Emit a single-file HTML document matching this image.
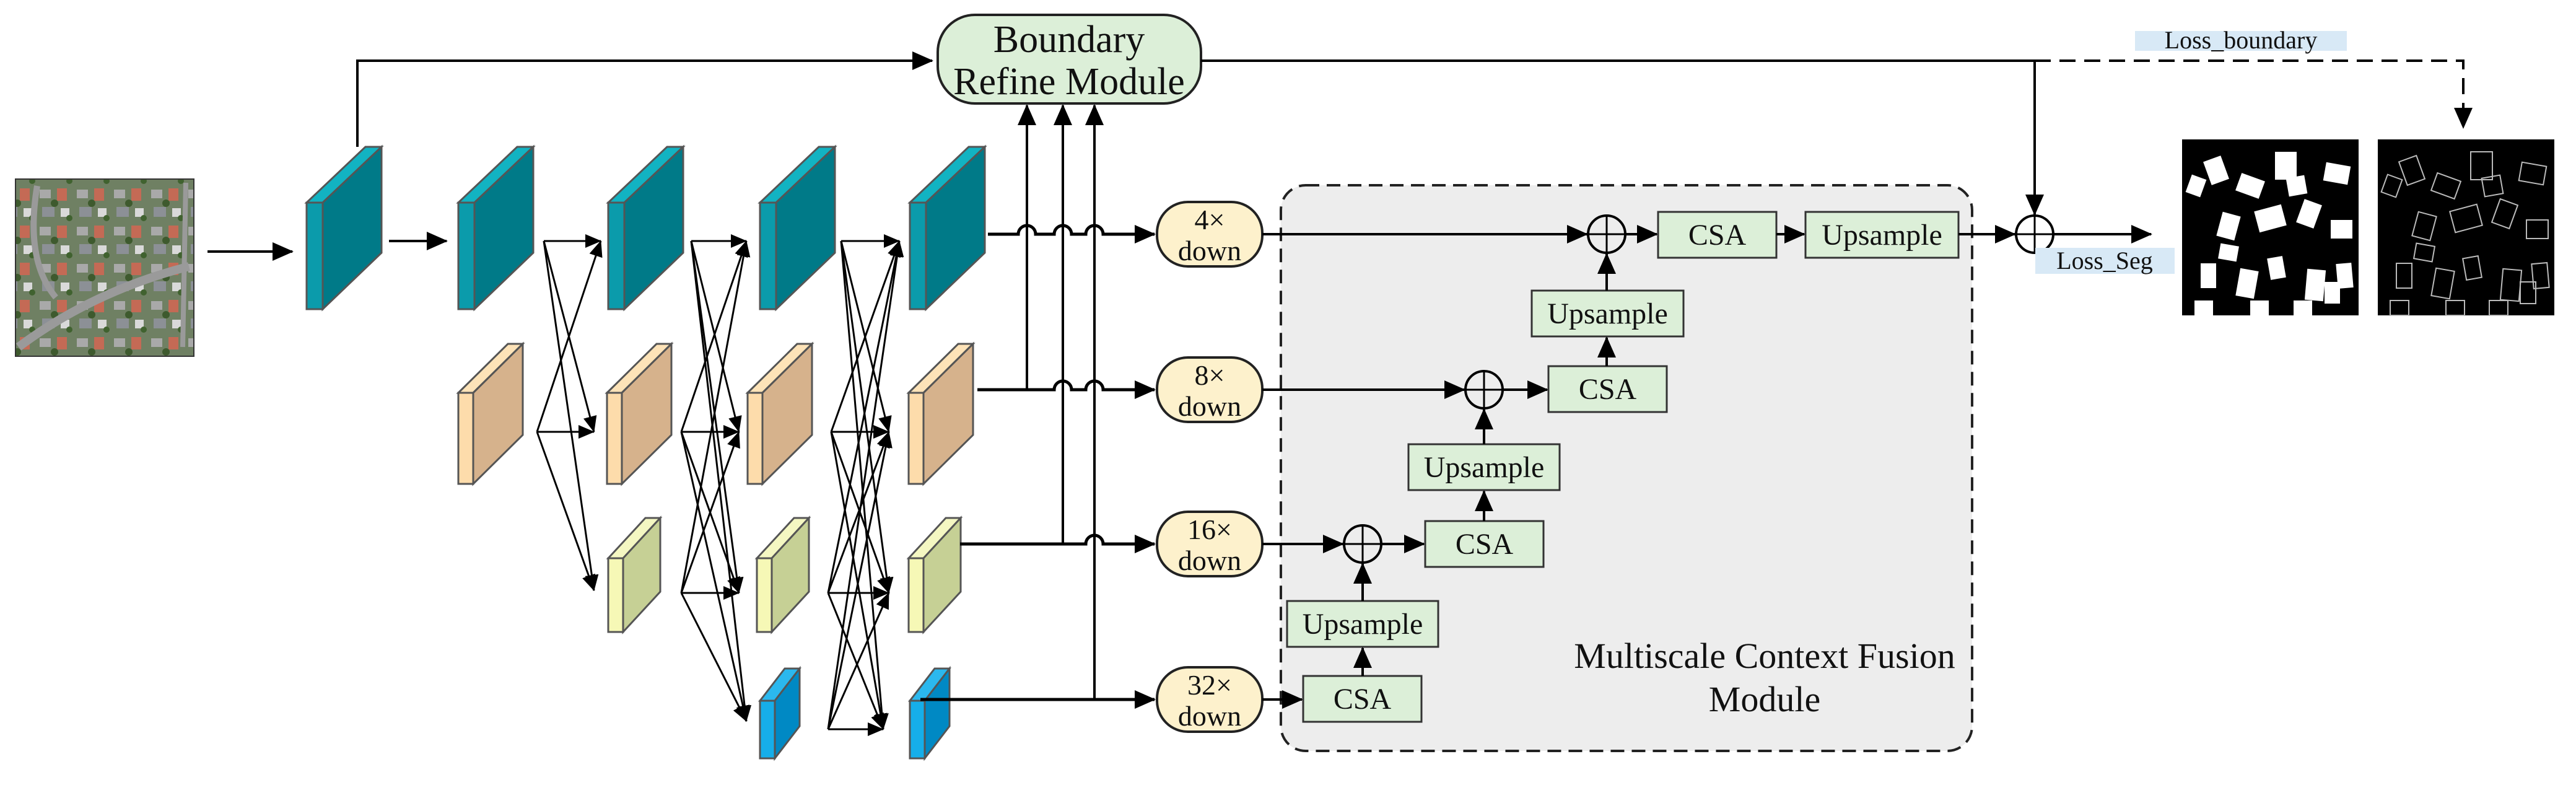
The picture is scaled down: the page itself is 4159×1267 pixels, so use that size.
<!DOCTYPE html>
<html><head><meta charset="utf-8"><style>
html,body{margin:0;padding:0;background:#fff}
svg{display:block}
text{font-family:"Liberation Serif",serif;fill:#111}
</style></head><body>
<svg id="s" width="4159" height="1267" viewBox="0 0 4159 1267" xmlns="http://www.w3.org/2000/svg">
<defs>
<marker id="a" markerUnits="userSpaceOnUse" markerWidth="34" markerHeight="30" refX="32" refY="15" orient="auto"><path d="M0,0 L34,15 L0,30 z" fill="#000"/></marker>
<marker id="b" markerUnits="userSpaceOnUse" markerWidth="26" markerHeight="22" refX="25" refY="11" orient="auto"><path d="M0,0 L26,11 L0,22 z" fill="#000"/></marker>
<pattern id="aer" width="60" height="60" patternUnits="userSpaceOnUse">
<rect width="60" height="60" fill="#6f8063"/>
<rect x="4" y="6" width="18" height="14" fill="#a9a9a9"/><rect x="32" y="4" width="16" height="20" fill="#c46a55"/>
<rect x="8" y="34" width="20" height="16" fill="#8c9096"/><rect x="38" y="36" width="14" height="14" fill="#d9d9d9"/>
<circle cx="28" cy="28" r="6" fill="#3e5a2e"/><circle cx="52" cy="52" r="5" fill="#40622f"/>
</pattern>
</defs>
<g id="g"></g>
</svg>
<script>
const g=document.getElementById('g');
let h='';
function L(x1,y1,x2,y2,m,w,d){h+=`<line x1="${x1}" y1="${y1}" x2="${x2}" y2="${y2}" stroke="#000" stroke-width="${w||4}" ${m?`marker-end="url(#${m})"`:''} ${d?`stroke-dasharray="${d}"`:''}/>`;}
function P(d,m,w,da){h+=`<path d="${d}" fill="none" stroke="#000" stroke-width="${w||4}" ${m?`marker-end="url(#${m})"`:''} ${da?`stroke-dasharray="${da}"`:''}/>`;}
function T(x,y,s,t,sz){h+=`<text x="${x}" y="${y}" font-size="${sz}" text-anchor="middle">${t}</text>`;}
h+=`<rect x="25" y="289" width="288" height="286" fill="url(#aer)" stroke="#333" stroke-width="2"/>`;
h+=`<path d="M30,560 Q150,470 305,430" stroke="#9a9a9a" stroke-width="14" fill="none"/><path d="M60,300 Q40,420 90,480" stroke="#9a9a9a" stroke-width="10" fill="none"/><path d="M300,295 L295,560" stroke="#9a9a9a" stroke-width="8" fill="none"/>`;
[495,740,982,1227,1469].forEach(x=>{
 const w=26,off=95,ft=327,fb=499,top=237,sb=408;
 h+=`<polygon points="${x},${ft} ${x+off},${top} ${x+off+w},${top} ${x+w},${ft}" fill="#12b3c2" stroke="#555" stroke-width="3"/>`;
 h+=`<polygon points="${x+w},${ft} ${x+w+off},${top} ${x+w+off},${sb} ${x+w},${fb}" fill="#007a88" stroke="#555" stroke-width="3"/>`;
 h+=`<rect x="${x}" y="${ft}" width="${w}" height="${fb-ft}" fill="#0b9bab" stroke="#555" stroke-width="3"/>`;
});
function gen(xs,ft,fb,top,off,sb,cf,cs,ct){xs.forEach(x=>{const w=24;
 h+=`<polygon points="${x},${ft} ${x+off},${top} ${x+off+w},${top} ${x+w},${ft}" fill="${ct}" stroke="#555" stroke-width="3"/>`;
 h+=`<polygon points="${x+w},${ft} ${x+w+off},${top} ${x+w+off},${sb} ${x+w},${fb}" fill="${cs}" stroke="#555" stroke-width="3"/>`;
 h+=`<rect x="${x}" y="${ft}" width="${w}" height="${fb-ft}" fill="${cf}" stroke="#555" stroke-width="3"/>`;});}
gen([740,980,1207,1467],634,781,555,80,702,"#fddcab","#d6b28c","#fde3b8");
gen([982,1222,1467],901,1020,836,60,955,"#f6f8b6","#c6d095","#f4f7c2");
gen([1227,1469],1131,1224,1079,40,1172,"#16aee9","#0089c4","#2bb8ee");
L(335,406,472,406,'a',4);L(628,389,721,389,'a',4);
P("M577,237 L577,98 L1505,98",'a',4);
h+=`<rect x="1514" y="24" width="425" height="143" rx="60" fill="#dcefd8" stroke="#222" stroke-width="4"/>`;
T(1726,84,0,"Boundary",62);T(1726,152,0,"Refine Module",62);
function cross(S,Tg){S.forEach(s=>Tg.forEach(t=>L(s[0],s[1],t[0],t[1],'b',3)));}
cross([[878,389],[867,697]],[[970,389],[959,697],[959,953]]);
cross([[1116,389],[1100,697],[1100,957]],[[1205,389],[1193,697],[1193,957],[1205,1164]]);
cross([[1358,389],[1342,697],[1337,957],[1337,1177]],[[1452,389],[1435,697],[1435,957],[1426,1177]]);
L(1658,629,1658,170,'a',4);L(1716,878,1716,170,'a',4);L(1767,1129,1767,170,'a',4);
function hopLine(x0,y,hops,x1){let d=`M${x0},${y}`;hops.forEach(hx=>{d+=` L${hx-14},${y} A14,14 0 0 1 ${hx+14},${y}`;});d+=` L${x1},${y}`;P(d,'a',5);}
hopLine(1595,378,[1658,1716,1767],1864);
hopLine(1578,629,[1716,1767],1864);
hopLine(1550,878,[1767],1864);
hopLine(1486,1129,[],1864);
[[378,"4×"],[629,"8×"],[878,"16×"],[1129,"32×"]].forEach(([y,t])=>{
 h+=`<rect x="1868" y="${y-52}" width="170" height="104" rx="50" fill="#fdf1cc" stroke="#222" stroke-width="4"/>`;
 T(1953,y-8,0,t,46);T(1953,y+42,0,"down",46);
});
h+=`<rect x="2068" y="299" width="1116" height="913" rx="40" fill="#ededed" stroke="#222" stroke-width="4" stroke-dasharray="22,12"/>`;
T(2849,1078,0,"Multiscale Context Fusion",58);T(2849,1148,0,"Module",58);
function box(x1,y1,x2,y2,t){h+=`<rect x="${x1}" y="${y1}" width="${x2-x1}" height="${y2-y1}" fill="#dcefd8" stroke="#333" stroke-width="3"/>`;T((x1+x2)/2,(y1+y2)/2+16,0,t,48);}
function plus(cx,cy){h+=`<circle cx="${cx}" cy="${cy}" r="30" fill="none" stroke="#000" stroke-width="4"/>`;L(cx-30,cy,cx+30,cy,null,3);L(cx,cy-30,cx,cy+30,null,3);}
L(2038,378,2562,378,'a',4);plus(2594,378);L(2624,378,2675,378,'a',4);box(2677,342,2868,416,"CSA");L(2868,378,2913,378,'a',4);box(2915,342,3162,416,"Upsample");L(3162,378,3253,378,'a',4);plus(3285,378);L(3315,378,3473,378,'a',4);
box(2473,469,2718,543,"Upsample");L(2594,469,2594,410,'a',4);
L(2038,629,2364,629,'a',4);plus(2396,629);L(2426,629,2498,629,'a',4);box(2500,591,2691,665,"CSA");L(2594,591,2594,545,'a',4);
box(2274,717,2518,791,"Upsample");L(2396,717,2396,661,'a',4);
L(2038,878,2168,878,'a',4);plus(2200,878);L(2230,878,2299,878,'a',4);box(2301,841,2492,915,"CSA");L(2396,841,2396,793,'a',4);
box(2078,970,2322,1044,"Upsample");L(2200,970,2200,910,'a',4);
L(2038,1129,2102,1129,'a',4);box(2104,1091,2295,1165,"CSA");L(2200,1091,2200,1046,'a',4);
P("M1939,98 L3285,98 L3285,346",'a',4);
P("M3285,98 L3977,98 L3977,206",'a',4,"26,14");
h+=`<rect x="3447" y="50" width="342" height="32" fill="#d8e9f6"/>`;T(3618,78,0,"Loss_boundary",40);
h+=`<rect x="3286" y="400" width="225" height="42" fill="#d8e9f6"/>`;T(3398,434,0,"Loss_Seg",40);
h+=`<rect x="3523" y="225" width="285" height="284" fill="#000"/><rect x="3839" y="225" width="285" height="284" fill="#000"/>`;
const R=[[40,30,30,40,-20],[90,60,40,30,20],[150,20,35,45,0],[230,40,40,30,10],[60,120,30,40,15],[120,110,45,35,-15],[190,100,30,40,20],[240,130,35,30,0],[30,200,25,40,0],[90,210,30,45,10],[140,190,25,35,-10],[200,210,30,50,5],[250,200,25,40,-5],[110,260,30,24,0],[180,260,30,24,0],[10,60,25,30,20],[170,60,30,30,-10],[60,170,30,25,10],[230,230,25,35,0],[20,260,30,24,0]];
R.forEach(([x,y,w,hh,r])=>{
 h+=`<rect x="${3523+x}" y="${225+y}" width="${w}" height="${hh}" fill="#fff" transform="rotate(${r} ${3523+x+w/2} ${225+y+hh/2})"/>`;
 h+=`<rect x="${3839+x}" y="${225+y}" width="${w}" height="${hh}" fill="none" stroke="#bbb" stroke-width="2" transform="rotate(${r} ${3839+x+w/2} ${225+y+hh/2})"/>`;
});
g.innerHTML=h;
</script>
</body></html>
